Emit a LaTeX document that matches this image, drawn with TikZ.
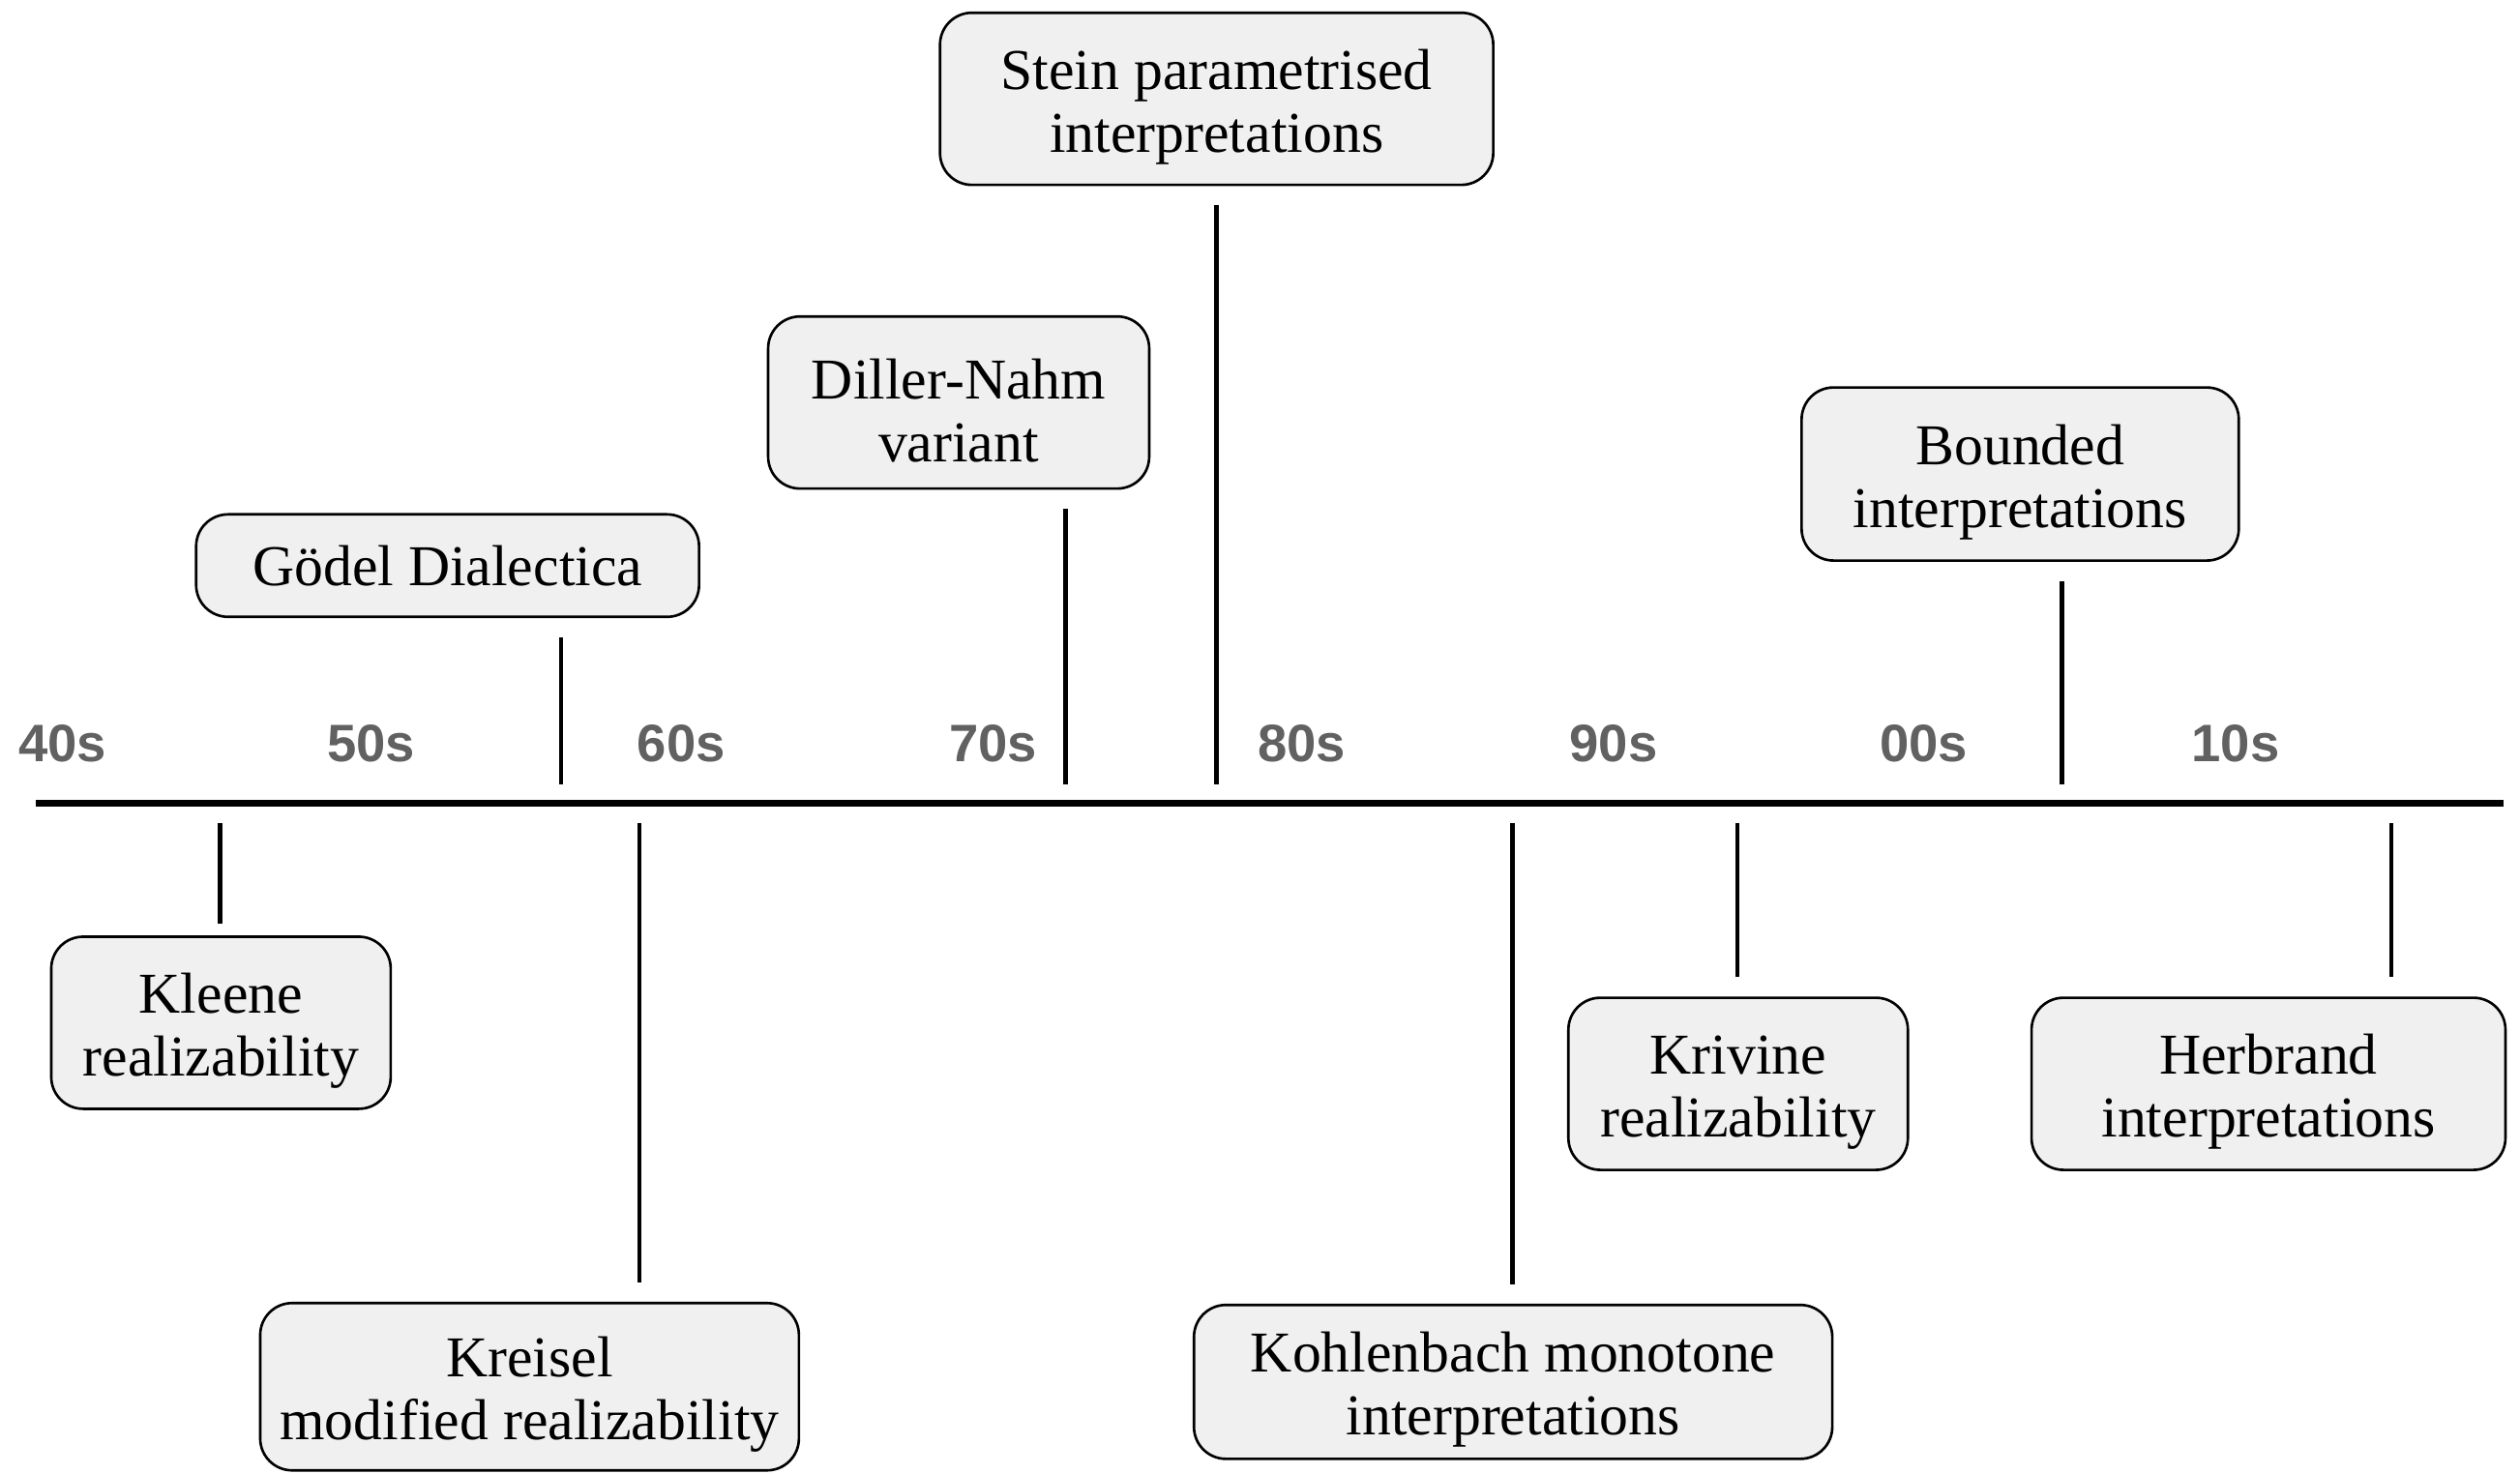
\documentclass[tikz,border=0pt]{standalone}
\usepackage{fontspec}
\setmainfont{Liberation Serif}
\newfontfamily\decfont{Liberation Sans}
\usepackage{tikz}
\definecolor{boxgray}{HTML}{F0F0F0}
\definecolor{decgray}{HTML}{616161}

\begin{document}
\begin{tikzpicture}[x=0.016614cm,y=-0.016614cm,
  era/.style={draw, rounded corners=0.33cm, line width=0.75pt, fill=boxgray,
    align=center, inner xsep=4pt, font=\fontsize{17}{18.5}\selectfont},
  eratwo/.style={era, text height=35pt},
  decade/.style={font=\decfont\bfseries\fontsize{15.5}{16}\selectfont, text=decgray},
  stem/.style={line width=1.25pt, shorten <=0.2cm, shorten >=0.2cm}]
\useasboundingbox (0,0) rectangle (1568,917);

% time axis
\coordinate (axl) at (22,500);
\coordinate (axr) at (1558,500);
\draw[line width=2.1pt] (axl) -- (axr);

\node[decade] (d40) at (39,463) {40s};
\node[decade] (d50) at (231,463) {50s};
\node[decade] (d60) at (424,463) {60s};
\node[decade] (d70) at (618,463) {70s};
\node[decade] (d80) at (810,463) {80s};
\node[decade] (d90) at (1004,463) {90s};
\node[decade] (d00) at (1197,463) {00s};
\node[decade] (d10) at (1391,463) {10s};

% above the axis
\node[era, minimum width=5.20cm, minimum height=1.06cm] (godel) at (278.5,352) {Gödel Dialectica};
\node[eratwo, minimum width=3.94cm, minimum height=1.78cm] (diller) at (596.5,250.5) {Diller-Nahm\\variant};
\node[eratwo, minimum width=5.72cm, minimum height=1.78cm] (stein) at (757,61.5) {Stein parametrised\\interpretations};
\node[eratwo, minimum width=4.52cm, minimum height=1.79cm] (bounded) at (1257,295) {Bounded\\interpretations};

% below the axis
\node[eratwo, minimum width=3.51cm, minimum height=1.78cm] (kleene) at (137.5,636.5) {Kleene\\realizability};
\node[eratwo, minimum width=5.57cm, minimum height=1.73cm] (kreisel) at (329.5,863) {Kreisel\\modified realizability};
\node[eratwo, minimum width=6.60cm, minimum height=1.56cm] (kohlen) at (941.5,860) {Kohlenbach monotone\\interpretations};
\node[eratwo, minimum width=3.51cm, minimum height=1.78cm] (krivine) at (1081.5,674.5) {Krivine\\realizability};
\node[eratwo, minimum width=4.90cm, minimum height=1.78cm] (herbrand) at (1411.5,674.5) {Herbrand\\interpretations};

% stems
\coordinate (tgodel) at (349,500);
\coordinate (tdiller) at (663,500);
\coordinate (tstein) at (757,500);
\coordinate (tbounded) at (1283,500);
\coordinate (tkleene) at (137,500);
\coordinate (tkreisel) at (398,500);
\coordinate (tkohlen) at (941,500);
\coordinate (tkrivine) at (1081,500);
\coordinate (therbrand) at (1488,500);

\draw[stem] (godel.south -| tgodel) -- (tgodel);
\draw[stem] (diller.south -| tdiller) -- (tdiller);
\draw[stem] (stein.south -| tstein) -- (tstein);
\draw[stem] (bounded.south -| tbounded) -- (tbounded);
\draw[stem, shorten <=0.12cm] (kleene.north -| tkleene) -- (tkleene);
\draw[stem] (kreisel.north -| tkreisel) -- (tkreisel);
\draw[stem] (kohlen.north -| tkohlen) -- (tkohlen);
\draw[stem] (krivine.north -| tkrivine) -- (tkrivine);
\draw[stem] (herbrand.north -| therbrand) -- (therbrand);
\end{tikzpicture}
\end{document}
